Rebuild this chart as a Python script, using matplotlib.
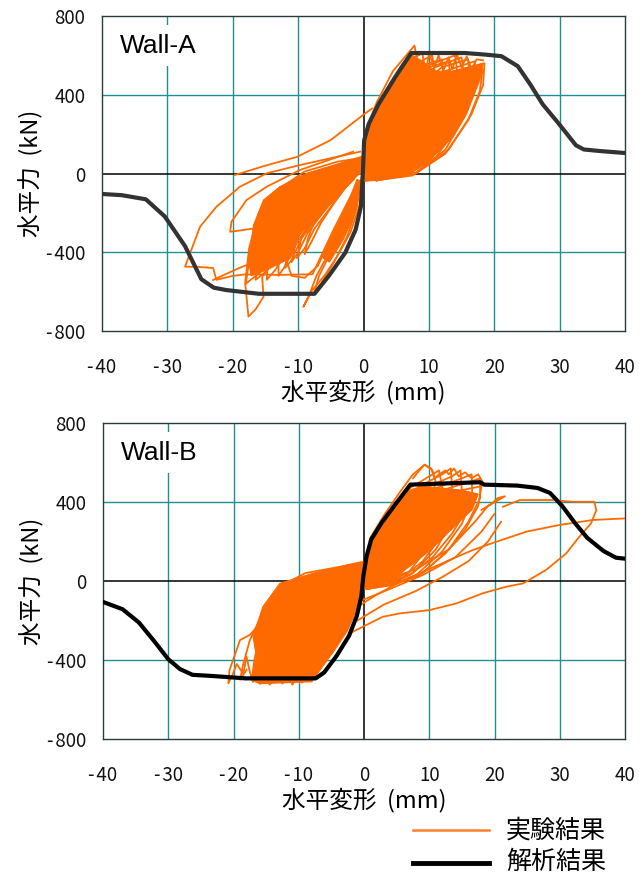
import matplotlib
matplotlib.use("Agg")
import matplotlib.pyplot as plt
from matplotlib.lines import Line2D

plt.rcParams['font.family'] = ['Noto Sans CJK JP', 'DejaVu Sans']

# axis ticks
x_ticks = [-40, -30, -20, -10, 0, 10, 20, 30, 40]
y_ticks = [-800, -400, 0, 400, 800]

# ---------------- Wall-A ----------------
# analysis (black) curve
a_ana_x = [-40, -37, -33.3, -30.4, -27.3, -24.8, -22.9, -21, -16, -7.5, -5.3, -2.8, -1.2,
           -0.4, -0.1, 0.1, 0.8, 2.3, 4.8, 7.3, 15.5, 18.6, 21.1, 23.6, 25.5, 27.4, 29.9,
           32.5, 33.7, 36.2, 40]
a_ana_y = [-104, -110, -131, -218, -369, -537, -580, -592, -611, -611, -520, -403, -285,
           -168, 0, 168, 252, 352, 487, 612, 612, 604, 596, 545, 453, 352, 252,
           143, 122, 114, 104]

# dense cores of the experiment loops
a_core_pos = [(0, -40), (0.2, 170), (1.5, 288), (4, 441), (6, 540), (7.5, 600), (9, 570),
              (11, 520), (13.5, 520), (16, 540), (18.3, 560), (17.8, 475), (15.8, 306),
              (13.2, 170), (10.2, 69), (6.6, 1), (2.5, -33)]
a_core_neg = [(0, 90), (-3.6, 52), (-8.7, 1), (-12.8, -67), (-15.3, -135), (-16.8, -260),
              (-17.6, -440), (-17.2, -520), (-14.8, -490), (-11.2, -430), (-9.7, -304),
              (-6.7, -219), (-4.1, -118), (-1.6, -16), (-0.2, 0)]
a_core_neg2 = [(-0.3, -40), (-1.3, -200), (-3, -330), (-5.2, -450), (-6.2, -430),
               (-4.5, -300), (-2.5, -160), (-1, -30)]

# experiment (orange) loops
a_loops = [
    [(0, 40), (0.5, 230), (2, 360), (4.5, 520), (7.8, 650), (8.3, 560), (7.5, 420), (5.5, 230), (3.5, 80), (1.5, -20), (0, -40)],
    [(0, 50), (1, 270), (3, 400), (6, 560), (9, 610), (9.5, 520), (8.5, 380), (6.5, 200), (4, 50), (1.5, -30)],
    [(0, 30), (1.5, 260), (4, 420), (7, 540), (10.5, 600), (11, 500), (10, 360), (7.5, 180), (5, 40), (2, -30)],
    [(0, 40), (2, 280), (5, 430), (8, 540), (12, 580), (12.3, 470), (11, 330), (8.5, 160), (5.5, 20), (2, -35)],
    [(0, 30), (2, 250), (5.5, 420), (9, 530), (13, 570), (13.5, 460), (12, 300), (9, 130), (6, 10), (2, -30)],
    [(0, 40), (2.5, 260), (6, 430), (10, 550), (14, 600), (14.5, 480), (13, 320), (10, 140), (6.5, 15), (2, -30)],
    [(0, 30), (3, 270), (7, 440), (11, 540), (15, 590), (15.5, 470), (14, 300), (11, 130), (7, 10), (2, -35)],
    [(0, 40), (3, 250), (7.5, 420), (12, 540), (16, 580), (16.3, 460), (15, 300), (12, 130), (7.5, 10), (2, -35)],
    [(0, 30), (3.5, 260), (8, 420), (12.5, 520), (17, 570), (17.2, 450), (15.5, 290), (12.5, 120), (8, 5), (2, -35)],
    [(0, 30), (4, 260), (9, 420), (14, 520), (18.5, 560), (18.3, 450), (16.5, 300), (13, 120), (8, 0), (2, -35)],
    [(0, 20), (4, 230), (9, 380), (14, 470), (18.2, 530), (17.8, 420), (16, 270), (12.5, 100), (7.5, -10), (2, -35)],
    [(0, 20), (3.5, 200), (8, 330), (12.5, 420), (16.5, 490), (16.3, 380), (14.5, 240), (11, 80), (6.5, -10), (1.5, -30)],
    [(0, 20), (3, 190), (7, 320), (11, 410), (14.5, 470), (14.3, 360), (12.5, 220), (9.5, 70), (5.5, -10), (1.5, -25)],
    [(0, 20), (2.5, 170), (6, 290), (9.5, 370), (12.5, 420), (12.3, 320), (10.5, 190), (8, 60), (4.5, -5), (1, -20)],
    [(0, 20), (2, 160), (5, 260), (8, 330), (10.5, 380), (10.3, 290), (9, 170), (6.5, 50), (3.5, -5), (1, -20)],
    [(0, 20), (1.5, 140), (4, 230), (6.5, 290), (8.5, 340), (8.3, 250), (7, 150), (5, 40), (2.5, -5), (0.5, -15)],
    [(9.5, 500), (10, 610), (10.8, 540), (11.5, 600), (12.2, 520), (13, 590), (13.6, 530), (14.3, 605), (15, 540), (15.8, 595), (16.5, 530), (17.3, 580), (18.3, 575)],
    [(1, 70), (-3, 50), (-8, 5), (-12, -70), (-15, -170), (-17, -330), (-18, -560), (-16.5, -520), (-13, -420), (-9, -280), (-5, -150), (-2, -40), (0, 30)],
    [(1, 60), (-3, 40), (-7, 0), (-11, -80), (-14, -190), (-15.8, -350), (-16.5, -540), (-15, -500), (-12, -380), (-8.5, -250), (-5, -130), (-2, -30), (0, 30)],
    [(0.5, 60), (-3, 35), (-7, -10), (-10.5, -100), (-13, -230), (-14.5, -380), (-14.8, -540), (-13.5, -490), (-11, -360), (-8, -240), (-5, -140), (-2, -40)],
    [(0.5, 50), (-3, 25), (-6.5, -20), (-9.5, -120), (-12, -260), (-13, -400), (-13, -520), (-12, -470), (-10, -340), (-7.5, -230), (-4.5, -130), (-1.5, -30)],
    [(0.5, 50), (-2.5, 20), (-6, -30), (-9, -140), (-11, -280), (-12, -480), (-11, -440), (-9.5, -330), (-7, -220), (-4, -110), (-1, -10)],
    [(0.5, 40), (-2.5, 10), (-5.5, -50), (-8, -160), (-10, -300), (-11, -450), (-10, -400), (-8.5, -300), (-6, -190), (-3.5, -90), (-1, 0)],
    [(0.5, 40), (-2, 0), (-5, -70), (-7.5, -190), (-9.5, -330), (-10.2, -430), (-9, -380), (-7.5, -280), (-5, -170), (-3, -80), (-1, 0)],
    [(0, 30), (-2, -10), (-4.5, -80), (-7, -200), (-8.5, -330), (-9, -410), (-8, -350), (-6.5, -250), (-4.5, -150), (-2.5, -60), (-0.5, 10)],
    [(0, 50), (-0.5, -150), (-2, -300), (-4, -420), (-6, -520), (-8, -600), (-9.2, -677), (-8.4, -626), (-7.2, -520), (-5.6, -423), (-3.5, -300), (-1.5, -160), (0, -20)],
    [(0, 40), (-1, -170), (-2.5, -320), (-4.5, -450), (-6.5, -560), (-7.5, -600), (-6.8, -520), (-5, -400), (-3, -260), (-1.2, -120), (0, 0)],
    [(0, 80), (-4, 60), (-9, 10), (-13, -80), (-16, -200), (-17.5, -380), (-18.1, -557), (-17.6, -727), (-16.5, -690), (-15.3, -626), (-15.5, -524), (-14, -460), (-11, -350), (-8, -230), (-4.5, -110), (-1.5, -20)],
    [(-0.5, 111), (-5.1, 77), (-9.7, 43), (-14.8, 1), (-18.9, -67), (-22.5, -169), (-25, -270), (-27.3, -473), (-25, -475), (-23, -480), (-22.5, -540), (-20, -520), (-18, -512), (-13, -515), (-7.8, -512), (-6.5, -420), (-4.5, -280), (-2.5, -150), (-0.8, -40)],
    [(-1.6, 111), (-9.7, 18), (-14.8, -67), (-17.9, -135), (-20.2, -245), (-20.4, -296), (-19, -290), (-17, -280), (-14, -330), (-12, -420), (-11, -520), (-9, -530), (-7, -470), (-5, -330), (-3, -200), (-1, -60)],
    [(-23, -541), (-21, -510), (-19, -480), (-16, -440), (-13, -380)],
    [(-19.7, -8), (-15, 40), (-10.2, 84), (-5, 170), (-0.2, 294), (1.3, 330)],
]

# ---------------- Wall-B ----------------
b_ana_x = [-40, -37, -34.5, -32, -30, -28.2, -26.3, -23.7, -18.1, -7.4, -6.1, -4.2, -2.3,
           -1.1, -0.4, -0.1, 0.4, 1.1, 2.7, 4.6, 7.1, 17.8, 18.4, 23.5, 26.6, 28.5, 30.4,
           32.3, 34.2, 36.7, 38.6, 40]
b_ana_y = [-106, -143, -210, -311, -396, -446, -475, -480, -493, -493, -463, -379, -278,
           -177, -76, 25, 126, 210, 295, 379, 488, 500, 488, 483, 471, 446, 379,
           295, 219, 152, 118, 113]

b_core_pos = [(0, -40), (0.3, 110), (1, 200), (2.6, 290), (4.5, 370), (7, 460), (9, 480),
              (12, 470), (15, 460), (17.5, 440), (16.6, 362), (13.4, 261), (10.3, 160),
              (7.1, 76), (4, 8), (0.8, -42)]
b_core_neg = [(0, 100), (-2.7, 81), (-7.8, 39), (-12.9, -12), (-15.5, -130), (-17, -282),
              (-16.5, -383), (-17.2, -501), (-16, -520), (-8, -510), (-6.5, -440),
              (-4.5, -350), (-2.5, -250), (-1.2, -150), (-0.3, -20)]

b_loops = [
    [(0, 60), (1, 220), (3, 330), (5.5, 450), (7.5, 540), (9.3, 589), (10.5, 560), (11, 500), (10, 380), (8, 230), (5.5, 90), (3, 0), (0.5, -40)],
    [(0, 50), (1.5, 230), (4, 360), (7, 470), (10, 530), (11.5, 560), (12, 470), (11, 340), (9, 200), (6, 60), (3, -10), (0.5, -40)],
    [(0, 40), (2, 240), (5, 380), (8.5, 480), (12, 540), (13.3, 570), (13.5, 470), (12.5, 330), (10, 180), (7, 50), (3.5, -15), (0.5, -40)],
    [(0, 40), (2.5, 240), (6, 380), (10, 480), (13.5, 530), (14.8, 560), (15, 450), (13.5, 300), (11, 160), (7.5, 40), (3.5, -20), (0.5, -40)],
    [(0, 30), (3, 240), (7, 380), (11, 470), (15, 520), (16.5, 540), (16.6, 420), (15, 290), (12, 150), (8, 30), (4, -20), (0.5, -40)],
    [(0, 30), (3.5, 240), (8, 380), (12, 460), (16, 500), (17.8, 520), (17.8, 420), (16, 300), (13, 160), (9, 40), (4.5, -20), (0.5, -40)],
    [(0, 30), (3, 200), (7, 320), (11, 410), (15, 460), (18, 480), (17.5, 380), (15.5, 260), (12.5, 140), (8.5, 30), (4, -25)],
    [(0, 30), (2.5, 180), (6, 290), (9.5, 370), (13, 420), (16, 450), (15.5, 350), (13.5, 240), (10.5, 120), (7, 30), (3.5, -20)],
    [(0, 20), (2, 160), (5, 260), (8, 330), (11, 380), (13.5, 410), (13, 310), (11.5, 210), (9, 100), (6, 20), (3, -20)],
    [(0, 20), (1.5, 140), (4, 230), (6.5, 290), (9, 340), (11, 370), (10.5, 280), (9.3, 180), (7.3, 90), (5, 20), (2.5, -20)],
    [(0, 20), (1.2, 130), (3, 200), (5, 260), (7, 300), (8.5, 330), (8, 250), (7, 160), (5.5, 80), (3.5, 15), (1.5, -20)],
    [(7.5, 520), (8.5, 560), (9.3, 589), (10.3, 570), (10.8, 520), (11.5, 540), (12.5, 560), (13, 540), (13.8, 570), (14.5, 530), (15.5, 550), (16.5, 520), (17.5, 540), (18.2, 500)],
    [(2, -10), (8, 60), (13, 160), (17, 300), (19, 380), (21.6, 429), (20.5, 420), (19.5, 390), (18, 360)],
    [(-1.7, -147), (1.4, -80), (5.5, -4), (9.1, 47), (13.1, 106), (16.7, 157), (20.3, 199), (24.9, 250), (30, 284), (35.1, 309), (40, 317)],
    [(-2.2, -265), (2.9, -181), (5.5, -164), (10.1, -147), (14.2, -113), (18.2, -62), (21.8, -29), (24.4, -12), (27.9, 56), (31, 140), (33, 224), (34.8, 292), (35.6, 359), (35.3, 401), (32, 401), (29, 410), (23.9, 410), (21.3, 376)],
    [(-1, -200), (3, -120), (8, -50), (12, 20), (16, 100), (19, 200), (21, 300)],
    [(-0.5, -100), (4, -40), (9, 30), (14, 120), (18, 250), (20, 340)],
    [(1, 80), (-3, 60), (-8, 30), (-12, -20), (-14.5, -130), (-16, -270), (-16.8, -400), (-17.2, -500), (-16, -515), (-14.5, -480), (-12.5, -400), (-10, -300), (-7, -200), (-4, -110), (-1.5, -30)],
    [(1, 70), (-3, 50), (-7.5, 20), (-11, -40), (-13.5, -150), (-15, -290), (-15.8, -420), (-16, -520), (-15, -500), (-13.5, -430), (-11.5, -340), (-9, -240), (-6, -150), (-3, -60), (-0.5, 0)],
    [(0.5, 60), (-3, 40), (-7, 10), (-10, -60), (-12.5, -180), (-14, -320), (-14.5, -440), (-14.5, -525), (-13.5, -490), (-12, -420), (-10, -330), (-7.5, -230), (-5, -140), (-2, -40)],
    [(0.5, 50), (-2.5, 30), (-6.5, 0), (-9.5, -80), (-11.5, -200), (-12.8, -340), (-13, -450), (-12.5, -520), (-11.5, -480), (-10, -400), (-8, -300), (-5.5, -190), (-3, -80)],
    [(0.5, 40), (-2.5, 20), (-6, -20), (-8.5, -110), (-10.5, -240), (-11.5, -380), (-11, -525), (-10, -480), (-8.5, -390), (-6.5, -270), (-4, -150), (-1.5, -40)],
    [(0.5, 40), (-2, 10), (-5.5, -40), (-8, -150), (-9.5, -290), (-10, -420), (-9.5, -515), (-8.5, -460), (-7, -350), (-5, -220), (-2.5, -90)],
    [(-1.7, 56), (-5.2, 39), (-8.3, 22), (-11.9, -29), (-15, -181), (-17.5, -273), (-19, -299), (-20.6, -450), (-20.8, -518), (-20.2, -480), (-19.5, -420), (-18.5, -470), (-18, -383), (-17.5, -460), (-17, -510)],
    [(-0.5, 90), (-4, 70), (-9, 40), (-13, -30), (-15.5, -160), (-17.5, -300), (-18.5, -420), (-19, -500), (-18, -450)],
]

ORANGE = '#FF6A00'
TEAL = '#1F9090'

fig = plt.figure(figsize=(6.44, 8.74), dpi=100)
ax_a = fig.add_axes([102 / 644, 1 - 331 / 874, 523 / 644, 315 / 874])
ax_b = fig.add_axes([103 / 644, 1 - 739 / 874, 522 / 644, 316 / 874])


def tick_text(v):
    return ('-\u200a' + str(-v)) if v < 0 else str(v)


def style_axes(ax, name):
    ax.set_xlim(-40, 40)
    ax.set_ylim(-800, 800)
    for xv in x_ticks[1:-1]:
        if xv != 0:
            ax.axvline(xv, color=TEAL, lw=1.0, zorder=0)
    for yv in y_ticks[1:-1]:
        if yv != 0:
            ax.axhline(yv, color=TEAL, lw=1.0, zorder=0)
    ax.axvline(0, color='black', lw=1.1, zorder=1)
    ax.axhline(0, color='black', lw=1.1, zorder=1)
    ax.set_xticks(x_ticks)
    ax.set_xticklabels([tick_text(v) for v in x_ticks])
    ax.set_yticks(y_ticks)
    ax.set_yticklabels([tick_text(v) for v in y_ticks])
    ax.tick_params(length=0, labelsize=13.5, colors='#111111')
    ax.tick_params(axis='x', pad=19)
    ax.tick_params(axis='y', pad=12)
    for sp in ax.spines.values():
        sp.set_color('#2b3b3b')
        sp.set_linewidth(1.0)
    ax.set_xlabel('水平変形  (mm)', fontsize=17, labelpad=1)
    ax.set_ylabel('水平力  (kN)', fontsize=17)
    ax.yaxis.set_label_coords(-0.112, 0.5)
    ax.text(-37.3, 650, name, fontsize=19, family='Liberation Sans', va='center', ha='left',
            zorder=2, bbox=dict(facecolor='white', edgecolor='none', pad=6))


def draw_orange(ax, cores, loops):
    for poly in cores:
        ax.fill([p[0] for p in poly], [p[1] for p in poly], color=ORANGE, lw=0.8, zorder=3)
    for loop in loops:
        ax.plot([p[0] for p in loop], [p[1] for p in loop], color=ORANGE, lw=1.3, zorder=3)


style_axes(ax_a, 'Wall-A')
draw_orange(ax_a, [a_core_pos, a_core_neg, a_core_neg2], a_loops)
ax_a.plot(a_ana_x, a_ana_y, color='#333333', lw=3, zorder=4, solid_joinstyle='round')

style_axes(ax_b, 'Wall-B')
draw_orange(ax_b, [b_core_pos, b_core_neg], b_loops)
ax_b.plot(b_ana_x, b_ana_y, color='black', lw=3, zorder=4, solid_joinstyle='round')

# legend drawn in figure coordinates
fig.add_artist(Line2D([413 / 644, 489 / 644], [1 - 830 / 874] * 2, color='#FF7F2A', lw=1.8))
fig.add_artist(Line2D([413 / 644, 489 / 644], [1 - 863 / 874] * 2, color='black', lw=3.5))
fig.text(506 / 644, 1 - 831 / 874, '実験結果', fontsize=18, va='center', ha='left')
fig.text(506 / 644, 1 - 862 / 874, '解析結果', fontsize=18, va='center', ha='left')

fig.savefig('out.png', dpi=100)
